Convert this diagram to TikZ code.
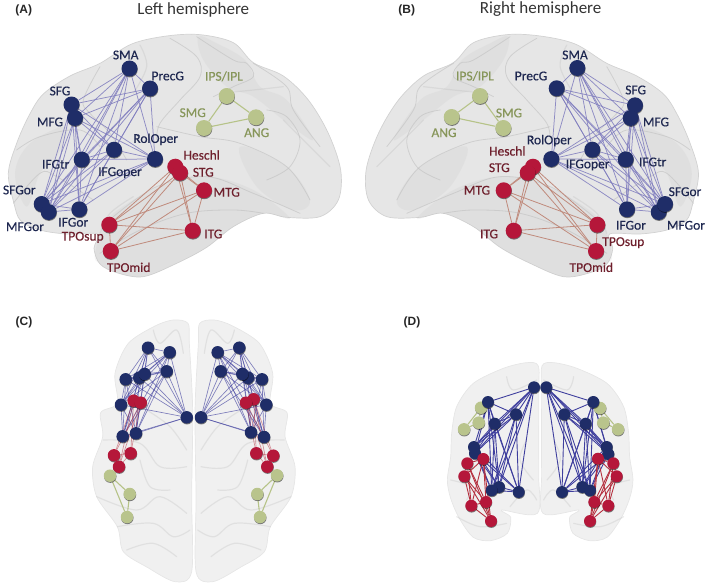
\documentclass[tikz,border=0pt]{standalone}
\usepackage{fontspec}
\setmainfont{Carlito}
\newfontfamily\headfont{Liberation Sans}
\newfontfamily\labfont[FakeBold=0.35]{Carlito}
\usetikzlibrary{shadows}
\definecolor{nblue}{HTML}{1F2D68}
\definecolor{nred}{HTML}{B5173A}
\definecolor{ngreen}{HTML}{B9C48C}
\definecolor{eblue}{HTML}{7F7CBE}
\definecolor{edblue}{HTML}{3F3F9E}
\definecolor{ered}{HTML}{C08A7C}
\definecolor{edred}{HTML}{B5303F}
\definecolor{egreen}{HTML}{B6C388}
\definecolor{tblue}{HTML}{1E2750}
\definecolor{tred}{HTML}{6E1F2C}
\definecolor{tgreen}{HTML}{87965A}
\definecolor{brainfill}{HTML}{E6E6E6}
\definecolor{brainlight}{HTML}{F0F0F0}
\definecolor{brainedge}{HTML}{D2D2D2}
\definecolor{fold}{HTML}{BDBDBD}
\pgfdeclarelayer{brain}\pgfdeclarelayer{edges}
\pgfsetlayers{brain,edges,main}
\tikzset{
  x=1pt,y=-1pt,
  ball/.style={circle,inner sep=0pt,minimum size=#1,draw=none,
    drop shadow={shadow xshift=0.3pt,shadow yshift=-0.9pt,fill=black,opacity=.5}},
  bb/.style={ball=#1,fill=nblue},
  rb/.style={ball=#1,fill=nred},
  gb/.style={ball=#1,fill=ngreen},
  la/.style={inner sep=0pt,font=\labfont\fontsize{13.5}{15}\selectfont},
  lb/.style={la,text=tblue},
  lr/.style={la,text=tred},
  lg/.style={la,text=tgreen},
  head/.style={inner sep=0pt,font=\headfont\bfseries\fontsize{12}{14}\selectfont,text=black!85},
  title/.style={inner sep=0pt,font=\fontsize{17}{20}\selectfont,text=black!80},
  shell/.style={fill=brainfill,draw=brainedge,line width=.7pt},
  shelll/.style={fill=brainlight,draw=brainfill,line width=.7pt},
  foldl/.style={draw=fold,line width=.8pt,opacity=.55,line cap=round},
  foldt/.style={draw=fold,line width=1.2pt,opacity=.3,line cap=round},
  foldf/.style={fill=fold,opacity=.15,draw=none},
  eA/.style={draw=eblue,line width=.75pt,opacity=.85},
  eR/.style={draw=ered,line width=.8pt},
  eG/.style={draw=egreen,line width=1.1pt},
  eC/.style={draw=edblue,line width=.65pt,opacity=.65},
  eCr/.style={draw=edred,line width=.7pt,opacity=.5},
  eD/.style={draw=edblue,line width=.9pt},
  eDr/.style={draw=edred,line width=.9pt},
}
\newcommand{\cliq}[3]{\begin{pgfonlayer}{edges}%
  \foreach \pa [count=\pi] in {#3}{\foreach \pb [count=\pj] in {#3}{%
    \ifnum\pj>\pi\relax\draw[#1] (#2\pa) -- (#2\pb);\fi}}%
  \end{pgfonlayer}}
\newcommand{\lateralbrain}{%
  \path[shell] plot[smooth cycle,tension=.55] coordinates {(42,610)(25,520)(50,430)(88,345)(130,282)(210,228)(300,190)(395,132)(500,108)(600,104)(700,128)(760,188)(850,228)(925,300)(985,400)(1022,510)(1015,600)(960,650)(860,652)(790,640)(700,680)(620,742)(530,790)(430,830)(350,818)(300,792)(282,745)(292,702)(200,702)(120,690)(62,662)};
  \path[foldf] plot[smooth cycle,tension=.6] coordinates {(285,760)(330,650)(480,560)(620,530)(760,570)(870,655)(790,640)(700,680)(620,742)(530,790)(430,830)(350,818)(300,792)};
  \path[foldf] plot[smooth cycle,tension=.6] coordinates {(595,110)(650,130)(735,180)(780,260)(860,300)(940,420)(850,360)(760,290)(680,260)(610,180)};
  \path[foldf] plot[smooth cycle,tension=.6] coordinates {(45,520)(90,430)(200,380)(170,470)(120,520)(80,620)};
  \path[foldf] plot[smooth cycle,tension=.6] coordinates {(720,440)(860,500)(930,600)(880,630)(770,560)};
  \draw[foldl] plot[smooth,tension=.6] coordinates {(510,115)(590,170)(600,230)(540,300)(480,370)(470,420)};
  \draw[foldl] plot[smooth,tension=.6] coordinates {(590,110)(700,180)(740,190)(760,230)(700,260)(640,290)};
  \draw[foldl] plot[smooth,tension=.6] coordinates {(470,380)(600,410)(720,430)(860,500)(930,600)};
  \draw[foldl] plot[smooth,tension=.6] coordinates {(760,190)(860,260)(880,330)(960,440)};
  \draw[foldl] plot[smooth,tension=.6] coordinates {(340,650)(470,560)(620,530)(760,580)(900,640)};
  \draw[foldl] plot[smooth,tension=.6] coordinates {(300,760)(420,690)(560,640)(700,630)(790,640)};
  \draw[foldl] plot[smooth,tension=.6] coordinates {(50,450)(120,410)(240,390)(300,440)};
  \draw[foldl] plot[smooth,tension=.6] coordinates {(300,200)(250,300)(270,340)(330,400)(380,480)};
  \draw[foldl] plot[smooth,tension=.6] coordinates {(40,610)(120,520)(170,530)(280,600)};
  \draw[foldl] plot[smooth,tension=.6] coordinates {(800,540)(870,500)(900,420)(860,350)(800,330)};
  \draw[foldt] plot[smooth,tension=.6] coordinates {(660,280)(760,270)(850,260)};
  \draw[foldt] plot[smooth,tension=.6] coordinates {(850,360)(930,440)(990,500)};
  \draw[foldt] plot[smooth,tension=.6] coordinates {(400,590)(330,640)(300,700)};
  \draw[foldt] plot[smooth,tension=.6] coordinates {(420,135)(440,200)(400,280)};
}
\newcommand{\topbrain}{%
  \path[shelll] plot[smooth cycle,tension=.5] coordinates {(384,40)(340,30)(285,48)(205,100)(165,190)(172,280)(122,308)(128,380)(98,470)(110,560)(172,650)(190,725)(262,772)(345,815)(395,785)(395,560)(398,300)(388,100)};
  \draw[foldt] plot[smooth,tension=.6] coordinates {(280,60)(300,100)(350,60)(370,130)};
  \draw[foldt] plot[smooth,tension=.6] coordinates {(130,390)(240,400)(300,470)(380,470)};
  \draw[foldt] plot[smooth,tension=.6] coordinates {(110,560)(230,600)(300,560)(380,610)};
  \draw[foldt] plot[smooth,tension=.6] coordinates {(172,650)(280,640)(340,680)(390,660)};
  \draw[foldt] plot[smooth,tension=.6] coordinates {(240,450)(270,530)(330,540)};
  \draw[foldt] plot[smooth,tension=.6] coordinates {(200,720)(280,700)(350,740)};
  \draw[foldt] plot[smooth,tension=.6] coordinates {(260,300)(330,350)(380,420)};
}
\newcommand{\frontbrain}{%
  \path[shelll] plot[smooth cycle,tension=.5] coordinates {(325,78)(290,68)(220,85)(130,130)(80,200)(65,280)(62,350)(52,420)(62,475)(88,535)(130,592)(182,602)(232,580)(242,532)(215,510)(322,520)(326,400)(326,160)};
  \draw[foldt] plot[smooth,tension=.6] coordinates {(230,110)(250,150)(320,120)};
  \draw[foldt] plot[smooth,tension=.6] coordinates {(62,420)(120,440)(110,480)};
  \draw[foldt] plot[smooth,tension=.6] coordinates {(240,500)(290,450)(320,480)};
  \draw[foldt] plot[smooth,tension=.6] coordinates {(80,530)(150,560)(230,550)};
  \draw[foldt] plot[smooth,tension=.6] coordinates {(290,300)(270,360)(310,420)};
}
\begin{document}
\begin{tikzpicture}
\useasboundingbox (0,0) rectangle (709,586);
\begin{pgfonlayer}{brain}
  \begin{scope}[x=1/3*1pt,y=-1/3*1pt] \lateralbrain \end{scope}
  \begin{scope}[xshift=706.8pt,x=-1/3*1pt,y=-1/3*1pt] \lateralbrain \end{scope}
  \begin{scope}[xshift=60pt,yshift=-310pt,x=1/3*1pt,y=-1/3*1pt] \topbrain \end{scope}
  \begin{scope}[xshift=327.7pt,yshift=-310pt,x=-1/3*1pt,y=-1/3*1pt] \topbrain \end{scope}
  \begin{scope}[xshift=430pt,yshift=-340pt,x=1/3*1pt,y=-1/3*1pt] \frontbrain \end{scope}
  \begin{scope}[xshift=650.3pt,yshift=-340pt,x=-1/3*1pt,y=-1/3*1pt] \frontbrain \end{scope}
\end{pgfonlayer}

% headings
\node[head] (hA) at (23.7,10.3) {(A)};
\node[head] (hB) at (406.7,10.3) {(B)};
\node[head] (hC) at (24,322) {(C)};
\node[head] (hD) at (412,322) {(D)};
\node[title] (tA) at (193.3,9.5) {Left hemisphere};
\node[title] (tB) at (540.7,9.5) {Right hemisphere};

% Panel A nodes
\foreach \n/\x/\y in {SMA/129.5/68.5,PrecG/150/88.5,SFG/71.5/104.5,MFG/75/118,RolOper/155/159,IFGoper/114/149.7,IFGtr/81.7/159.5,SFGor/41.7/204,MFGor/48.7/212,IFGor/79.3/209.3}
  \node[bb=16pt] (a\n) at (\x,\y) {};
\foreach \n/\x/\y in {Heschl/175.3/166.7,STG/180/172.7,MTG/204/190.3,ITG/192.7/230.7,TPOsup/109.3/224.7,TPOmid/110.7/251}
  \node[rb=16pt] (a\n) at (\x,\y) {};
\foreach \n/\x/\y in {IPS/226.7/96,SMG/204/128,ANG/256/117.3}
  \node[gb=16pt] (a\n) at (\x,\y) {};
\cliq{eA}{a}{SMA,PrecG,SFG,MFG,RolOper,IFGoper,IFGtr,SFGor,MFGor,IFGor}
\cliq{eR}{a}{Heschl,STG,MTG,ITG,TPOsup,TPOmid}
\cliq{eG}{a}{IPS,SMG,ANG}

% Panel B nodes
\foreach \n/\x/\y in {SMA/577.3/68,PrecG/556.7/88.3,SFG/635/105.3,MFG/630.7/118,RolOper/551.3/159,IFGoper/592.3/149.7,IFGtr/625.7/159.3,MFGor/658.7/212,SFGor/665/204,IFGor/627/209.3}
  \node[bb=16pt] (b\n) at (\x,\y) {};
\foreach \n/\x/\y in {Heschl/533/166.7,STG/527.7/172.7,MTG/503.7/190.3,ITG/513.7/230.7,TPOsup/597.3/224.7,TPOmid/596/251}
  \node[rb=16pt] (b\n) at (\x,\y) {};
\foreach \n/\x/\y in {IPS/480/96,SMG/503.3/128,ANG/451.7/117}
  \node[gb=16pt] (b\n) at (\x,\y) {};
\cliq{eA}{b}{SMA,PrecG,SFG,MFG,RolOper,IFGoper,IFGtr,SFGor,MFGor,IFGor}
\cliq{eR}{b}{Heschl,STG,MTG,ITG,TPOsup,TPOmid}
\cliq{eG}{b}{IPS,SMG,ANG}

% Labels A
\foreach \t/\x/\y in {SMA/125.7/55,PrecG/167.7/76,SFG/60/91,MFG/50/122,RolOper/155.7/139.3,IFGoper/120/172.7,IFGtr/55.7/164.3,SFGor/19.3/190,MFGor/25/226.7,IFGor/73.3/222.3}
  \node[lb] (la\t) at (\x,\y) {\t};
\foreach \t/\x/\y in {Heschl/201.7/155,STG/203.3/172.3,MTG/226.7/192.3,ITG/213.3/234,TPOsup/82.7/237.3,TPOmid/128.7/267.3}
  \node[lr] (la\t) at (\x,\y) {\t};
\node[lg] (laIPS) at (224,76.3) {IPS/IPL};
\node[lg] (laSMG) at (192.7,112.7) {SMG};
\node[lg] (laANG) at (256.7,132.7) {ANG};
% Labels B
\foreach \t/\x/\y in {SMA/575/55,PrecG/531/76,SFG/635.7/90,MFG/656/122,RolOper/549.3/140.7,IFGoper/587.7/165,IFGtr/652.7/162,SFGor/685/191.7,MFGor/686/225.3,IFGor/631/225.3}
  \node[lb] (lb\t) at (\x,\y) {\t};
\foreach \t/\x/\y in {Heschl/507.3/151,STG/499.3/167.7,MTG/477/190.3,ITG/489/234,TPOsup/623.3/242.7,TPOmid/591.3/267.3}
  \node[lr] (lb\t) at (\x,\y) {\t};
\node[lg] (lbIPS) at (475,76) {IPS/IPL};
\node[lg] (lbSMG) at (509,113) {SMG};
\node[lg] (lbANG) at (444,132.7) {ANG};

% Panel C
\foreach \n/\x/\y in {1/148/347.7,2/169.7/352.3,3/125.7/379.3,4/139.3/377.7,5/144.7/374,6/166.7/371.3,7/121/404.7,8/186.7/417.3,9/122.7/436.3,10/136/433.3}
  \node[bb=12.5pt] (cl\n) at (\x,\y) {};
\foreach \n/\x/\y in {1/133.7/400.7,2/140.7/402.7,3/114/455.3,4/130.7/453.3,5/119/466.7}
  \node[rb=12.5pt] (cr\n) at (\x,\y) {};
\foreach \n/\x/\y in {1/110/475.7,2/129.7/494,3/127/517}
  \node[gb=12.5pt] (cg\n) at (\x,\y) {};
\foreach \n/\x/\y in {1/239.3/347.7,2/217.7/352.3,3/262/379.3,4/248/377.7,5/242.3/374,6/220.7/371.3,7/266.3/404.7,8/201/417.3,9/264/437,10/251/432.3}
  \node[bb=12.5pt] (dl\n) at (\x,\y) {};
\foreach \n/\x/\y in {1/253.7/399.3,2/246/402.7,3/273.3/455.7,4/256.3/453.3,5/267.3/466.7}
  \node[rb=12.5pt] (dr\n) at (\x,\y) {};
\foreach \n/\x/\y in {1/277/475.3,2/257.3/494,3/260/517}
  \node[gb=12.5pt] (dg\n) at (\x,\y) {};
\cliq{eC}{cl}{1,2,3,4,5,6,7,8,9,10}
\cliq{eC}{dl}{1,2,3,4,5,6,7,8,9,10}
\cliq{eCr}{cr}{1,2,3,4,5}
\cliq{eCr}{dr}{1,2,3,4,5}
\cliq{eG}{cg}{1,2,3}
\cliq{eG}{dg}{1,2,3}

% Panel D
\foreach \n/\x/\y in {1/481/407.7,2/478.7/422.7,3/464/429.3}
  \node[gb=12.5pt] (eg\n) at (\x,\y) {};
\foreach \n/\x/\y in {1/600/408,2/603.3/422.7,3/618/429.3}
  \node[gb=12.5pt] (fg\n) at (\x,\y) {};
\foreach \n/\x/\y in {1/534/387.3,2/488/402,3/516/414.3,4/494.7/423.7,5/474/447,6/475/453.3,7/499/487,8/491.7/490.3,9/518.7/492}
  \node[bb=12pt] (el\n) at (\x,\y) {};
\foreach \n/\x/\y in {1/546.3/387.3,2/593.3/402,3/564.3/414.3,4/585.7/423.7,5/606.7/447,6/608.3/454,7/582.3/487,8/590/490.3,9/562/492}
  \node[bb=12pt] (fl\n) at (\x,\y) {};
\foreach \n/\x/\y in {1/483.3/459,2/467.3/463.3,3/464.3/476.3,4/486/502,5/471.3/505.7,6/491/521}
  \node[rb=12pt] (er\n) at (\x,\y) {};
\foreach \n/\x/\y in {1/598/458.7,2/613.3/463.3,3/616.7/476.3,4/594.3/502,5/608.3/505.7,6/590/521}
  \node[rb=12pt] (fr\n) at (\x,\y) {};
\cliq{eD}{el}{1,2,3,4,5,6,7,8,9}
\cliq{eD}{fl}{1,2,3,4,5,6,7,8,9}
\cliq{eDr}{er}{1,2,3,4,5,6}
\cliq{eDr}{fr}{1,2,3,4,5,6}
\cliq{eG}{eg}{1,2,3}
\cliq{eG}{fg}{1,2,3}
\end{tikzpicture}
\end{document}
